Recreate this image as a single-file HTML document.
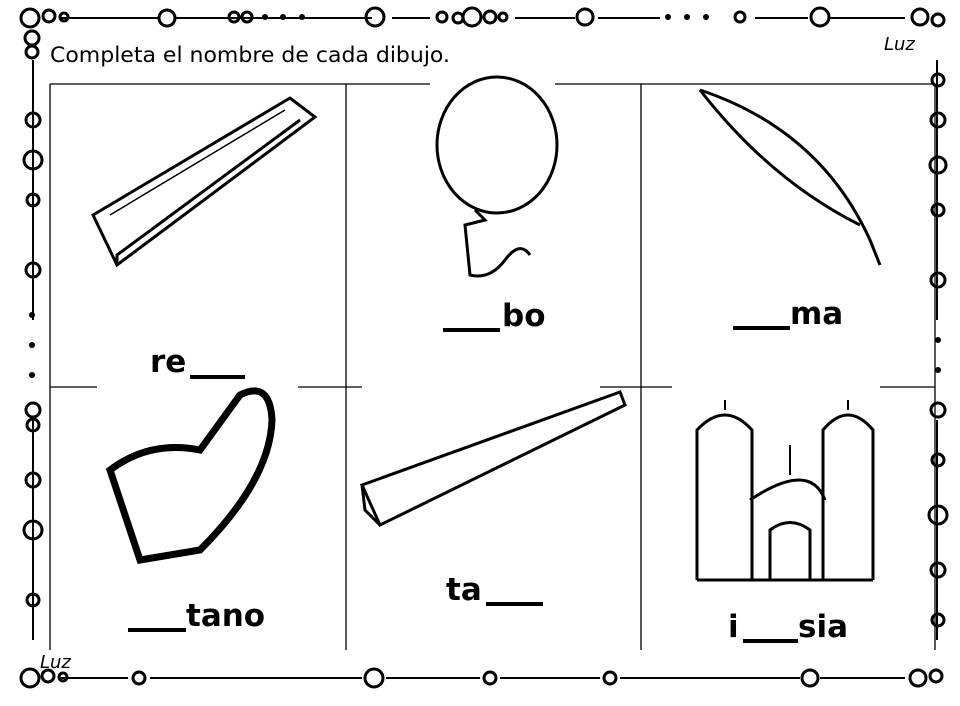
<!DOCTYPE html>
<html><head><style>
body{margin:0;background:#fff}
svg{display:block}
text{font-family:"DejaVu Sans","Liberation Sans",sans-serif}
</style></head><body>
<svg width="960" height="706" viewBox="0 0 960 706" xmlns="http://www.w3.org/2000/svg">
<g stroke="#000" fill="none">
<path d="M60 18H158M176 18H372M392 18H430M515 18H575M598 18H660M755 18H808M830 18H905" stroke-width="2"/>
<path d="M60 678H128M150 678H362M386 678H480M500 678H600M620 678H800M820 678H905" stroke-width="2"/>
<path d="M33 60V320M33 420V640" stroke-width="2"/>
<path d="M937 60V320M937 420V640" stroke-width="2"/>
<g stroke-width="3">
<circle cx="30" cy="18" r="9"/><circle cx="49" cy="16" r="6"/><circle cx="64" cy="17" r="4"/>
<circle cx="167" cy="18" r="8"/><circle cx="234" cy="17" r="5"/><circle cx="247" cy="17" r="5"/>
<circle cx="375" cy="17" r="9"/><circle cx="442" cy="17" r="5"/><circle cx="458" cy="18" r="5"/><circle cx="472" cy="17" r="9"/><circle cx="490" cy="17" r="6"/><circle cx="503" cy="17" r="4"/>
<circle cx="585" cy="17" r="8"/><circle cx="740" cy="17" r="5"/><circle cx="820" cy="17" r="9"/><circle cx="920" cy="17" r="8"/><circle cx="938" cy="20" r="6"/>
<circle cx="32" cy="38" r="7"/><circle cx="32" cy="52" r="6"/><circle cx="33" cy="120" r="7"/><circle cx="33" cy="160" r="9"/><circle cx="33" cy="200" r="6"/><circle cx="33" cy="270" r="7"/>
<circle cx="33" cy="410" r="7"/><circle cx="33" cy="425" r="6"/><circle cx="33" cy="480" r="7"/><circle cx="33" cy="530" r="9"/><circle cx="33" cy="600" r="6"/>
<circle cx="938" cy="80" r="6"/><circle cx="938" cy="120" r="7"/><circle cx="938" cy="165" r="8"/><circle cx="938" cy="210" r="6"/><circle cx="938" cy="280" r="7"/>
<circle cx="938" cy="410" r="7"/><circle cx="938" cy="460" r="6"/><circle cx="938" cy="515" r="9"/><circle cx="938" cy="570" r="7"/><circle cx="938" cy="620" r="6"/>
<circle cx="30" cy="678" r="9"/><circle cx="48" cy="676" r="6"/><circle cx="63" cy="677" r="4"/><circle cx="139" cy="678" r="6"/><circle cx="374" cy="678" r="9"/><circle cx="490" cy="678" r="6"/><circle cx="610" cy="678" r="6"/><circle cx="810" cy="678" r="8"/><circle cx="918" cy="678" r="8"/><circle cx="936" cy="676" r="6"/>
</g>
</g>
<g fill="#000">
<circle cx="265" cy="17" r="3"/><circle cx="283" cy="17" r="3"/><circle cx="302" cy="17" r="3"/>
<circle cx="668" cy="17" r="3"/><circle cx="687" cy="17" r="3"/><circle cx="706" cy="17" r="3"/>
<circle cx="32" cy="345" r="3"/><circle cx="32" cy="375" r="3"/><circle cx="32" cy="315" r="3"/>
<circle cx="938" cy="340" r="3"/><circle cx="938" cy="370" r="3"/>
</g>
<text x="50" y="62" font-size="21" textLength="400" lengthAdjust="spacingAndGlyphs">Completa el nombre de cada dibujo.</text>
<text x="884" y="50" font-size="18" font-style="italic" font-family="Liberation Serif">Luz</text>
<text x="40" y="668" font-size="18" font-style="italic" font-family="Liberation Serif">Luz</text>
<g stroke="#000" stroke-width="1.3" fill="none">
<path d="M50 84H430M555 84H935"/>
<path d="M50 84V650M346 84V650M641 84V650M935 84V650"/>
<path d="M50 387H97M298 387H362M600 387H672M880 387H935"/>
</g>
<g stroke="#000" fill="none" stroke-width="3">
<path d="M93 215L290 98L315 117L117 265Z"/>
<path d="M117 265L117 255L300 120"/>
<path d="M110 215L285 110" stroke-width="1.5"/>
<ellipse cx="497" cy="145" rx="60" ry="68"/>
<path d="M475 210L485 220L465 225L470 275Q490 280 505 260Q520 240 530 255"/>
<path d="M700 90Q820 130 870 240L880 265M700 90Q770 180 860 225"/>
<path d="M110 470Q150 440 200 450L240 395Q270 380 272 420Q270 480 200 550L140 560Z" stroke-width="7"/>
<path d="M362 485L620 392L625 405L380 525Z"/>
<path d="M362 485L365 510L380 525"/>
<path d="M697 580V430Q725 400 752 430V580M823 580V430Q848 400 873 430V580M697 580H873M750 500Q810 460 825 500M770 580V530Q790 515 810 530V580"/>
<path d="M725 400V410M848 400V410M790 445V475" stroke-width="2"/>
</g>
<g font-size="31" font-weight="bold" fill="#000">
<text x="150" y="372">re</text><path d="M190 377H245" stroke="#000" stroke-width="4"/>
<text x="502" y="326">bo</text><path d="M443 330H500" stroke="#000" stroke-width="4"/>
<text x="790" y="324">ma</text><path d="M733 328H790" stroke="#000" stroke-width="4"/>
<text x="186" y="626">tano</text><path d="M128 630H186" stroke="#000" stroke-width="4"/>
<text x="446" y="600">ta</text><path d="M486 604H543" stroke="#000" stroke-width="4"/>
<text x="728" y="637">i</text><text x="798" y="637">sia</text><path d="M743 641H798" stroke="#000" stroke-width="4"/>
</g>
</svg>
</body></html>
